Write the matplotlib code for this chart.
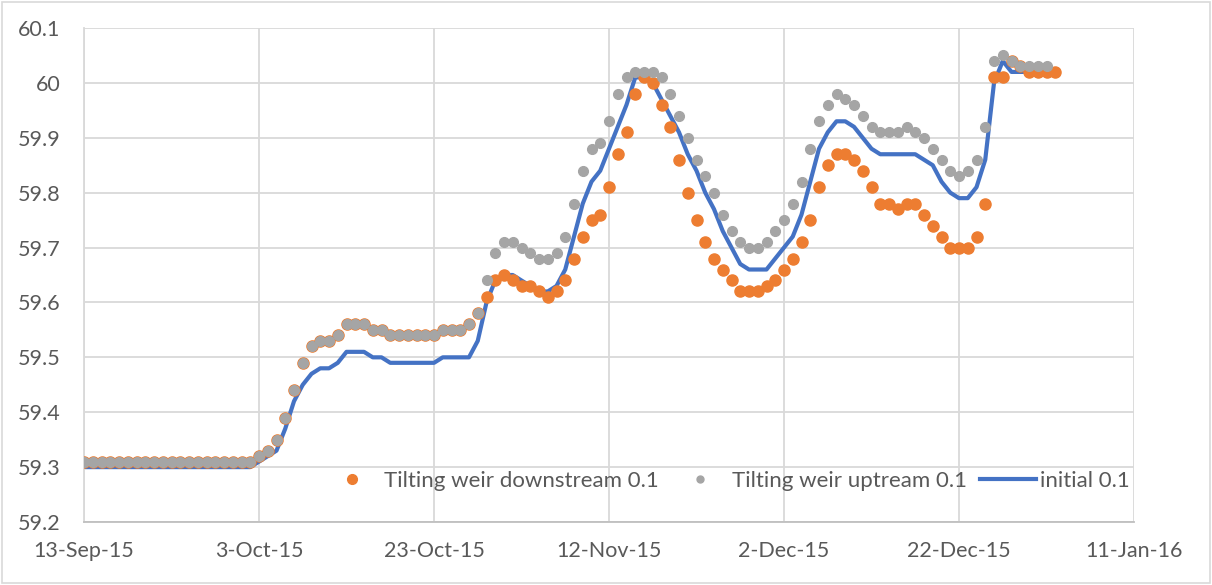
import numpy as np
import pandas as pd
import matplotlib
matplotlib.use("Agg")
import matplotlib.pyplot as plt
import matplotlib.dates as mdates
from matplotlib.lines import Line2D
from matplotlib.patches import Rectangle

# ============================================================
# Data (daily water levels, 13-Sep-15 .. 2-Jan-16)
# ============================================================
dates = pd.date_range("2015-09-13", "2016-01-02", freq="D")

downstream = [59.31] * 20 + [
    59.32, 59.33, 59.35, 59.39, 59.44, 59.49, 59.52, 59.53, 59.53, 59.54,
    59.56, 59.56, 59.56, 59.55, 59.55, 59.54, 59.54, 59.54, 59.54, 59.54,
    59.54, 59.55, 59.55, 59.55, 59.56, 59.58, 59.61, 59.64, 59.65, 59.64,
    59.63, 59.63, 59.62, 59.61, 59.62, 59.64, 59.68, 59.72, 59.75, 59.76,
    59.81, 59.87, 59.91, 59.98, 60.01, 60.00, 59.96, 59.92, 59.86, 59.80,
    59.75, 59.71, 59.68, 59.66, 59.64, 59.62, 59.62, 59.62, 59.63, 59.64,
    59.66, 59.68, 59.71, 59.75, 59.81, 59.85, 59.87, 59.87, 59.86, 59.84,
    59.81, 59.78, 59.78, 59.77, 59.78, 59.78, 59.76, 59.74, 59.72, 59.70,
    59.70, 59.70, 59.72, 59.78, 60.01, 60.01, 60.04, 60.03, 60.02, 60.02,
    60.02, 60.02,
]

upstream = [59.31] * 20 + [
    59.32, 59.33, 59.35, 59.39, 59.44, 59.49, 59.52, 59.53, 59.53, 59.54,
    59.56, 59.56, 59.56, 59.55, 59.55, 59.54, 59.54, 59.54, 59.54, 59.54,
    59.54, 59.55, 59.55, 59.55, 59.56, 59.58, 59.64, 59.69, 59.71, 59.71,
    59.70, 59.69, 59.68, 59.68, 59.69, 59.72, 59.78, 59.84, 59.88, 59.89,
    59.93, 59.98, 60.01, 60.02, 60.02, 60.02, 60.01, 59.98, 59.94, 59.90,
    59.86, 59.83, 59.80, 59.76, 59.73, 59.71, 59.70, 59.70, 59.71, 59.73,
    59.75, 59.78, 59.82, 59.88, 59.93, 59.96, 59.98, 59.97, 59.96, 59.94,
    59.92, 59.91, 59.91, 59.91, 59.92, 59.91, 59.90, 59.88, 59.86, 59.84,
    59.83, 59.84, 59.86, 59.92, 60.04, 60.05, 60.04, 60.03, 60.03, 60.03,
    60.03, np.nan,
]

initial = [59.30] * 20 + [
    59.31, 59.32, 59.33, 59.37, 59.42, 59.45, 59.47, 59.48, 59.48, 59.49,
    59.51, 59.51, 59.51, 59.50, 59.50, 59.49, 59.49, 59.49, 59.49, 59.49,
    59.49, 59.50, 59.50, 59.50, 59.50, 59.53, 59.60, 59.64, 59.65, 59.65,
    59.64, 59.63, 59.62, 59.62, 59.63, 59.66, 59.72, 59.78, 59.82, 59.84,
    59.88, 59.92, 59.96, 60.01, 60.01, 60.00, 59.97, 59.94, 59.91, 59.87,
    59.84, 59.80, 59.77, 59.73, 59.70, 59.67, 59.66, 59.66, 59.66, 59.68,
    59.70, 59.72, 59.76, 59.82, 59.88, 59.91, 59.93, 59.93, 59.92, 59.90,
    59.88, 59.87, 59.87, 59.87, 59.87, 59.87, 59.86, 59.85, 59.82, 59.80,
    59.79, 59.79, 59.81, 59.86, 60.00, 60.04, 60.02, 60.02, 60.02, 60.02,
    60.02, 60.02,
]

labels = ["Tilting weir downstream 0.1", "Tilting weir uptream 0.1", "initial 0.1"]
yticks = [59.2, 59.3, 59.4, 59.5, 59.6, 59.7, 59.8, 59.9, 60.0, 60.1]
ytick_labels = ["59.2", "59.3", "59.4", "59.5", "59.6", "59.7", "59.8", "59.9", "60", "60.1"]
xticks = pd.date_range("2015-09-13", "2016-01-11", freq="20D")

# ============================================================
# Style
# ============================================================
ORANGE = "#ED7D31"
GRAY = "#A5A5A5"
BLUE = "#4472C4"
GRID = "#D9D9D9"
TEXT = "#595959"

plt.rcParams["font.family"] = ["Lato", "DejaVu Sans"]

fig = plt.figure(figsize=(12.12, 5.85), dpi=100)
ax = fig.add_axes([84 / 1212, 63 / 585, 1050 / 1212, 494 / 585])

ax.plot(dates, initial, color=BLUE, lw=3.0, zorder=2, solid_joinstyle="round")
ax.plot(dates, downstream, ls="none", marker="o", ms=8, color=ORANGE,
        mec=ORANGE, zorder=3)
ax.plot(dates, upstream, ls="none", marker="o", ms=7, color=GRAY,
        mec=GRAY, zorder=4)

ax.set_xlim(xticks[0], xticks[-1])
ax.set_ylim(59.2, 60.1)
ax.set_xticks(xticks)
ax.xaxis.set_major_formatter(mdates.DateFormatter("%-d-%b-%y"))
ax.set_yticks(yticks)
ax.set_yticklabels(ytick_labels)

ax.grid(True, color=GRID, lw=1.3, zorder=0)
ax.set_axisbelow(True)
for s in ["top", "right"]:
    ax.spines[s].set_visible(False)
ax.spines["left"].set_color(GRID)
ax.spines["left"].set_linewidth(1.3)
ax.spines["bottom"].set_color("#BFBFBF")
ax.spines["bottom"].set_linewidth(1.3)
ax.tick_params(axis="both", length=0, labelsize=15.5, labelcolor=TEXT)
ax.tick_params(axis="y", pad=17)
ax.tick_params(axis="x", pad=14)

handles = [
    Line2D([], [], ls="none", marker="o", ms=7, color=ORANGE),
    Line2D([], [], ls="none", marker="o", ms=5, color=GRAY),
    Line2D([], [], color=BLUE, lw=3.0),
]
leg = ax.legend(handles, labels, ncol=3, loc="center right",
                bbox_to_anchor=(1.007, 0.084), frameon=False, fontsize=16,
                handlelength=2.5, handletextpad=0.2, columnspacing=0.6,
                borderpad=0, labelcolor=TEXT)
leg.set_zorder(5)

# light chart border
fig.patches.append(Rectangle((0.002, 0.003), 0.996, 0.994, transform=fig.transFigure,
                             fill=False, edgecolor=GRID, lw=1.2))

fig.savefig("out.png", dpi=100)
